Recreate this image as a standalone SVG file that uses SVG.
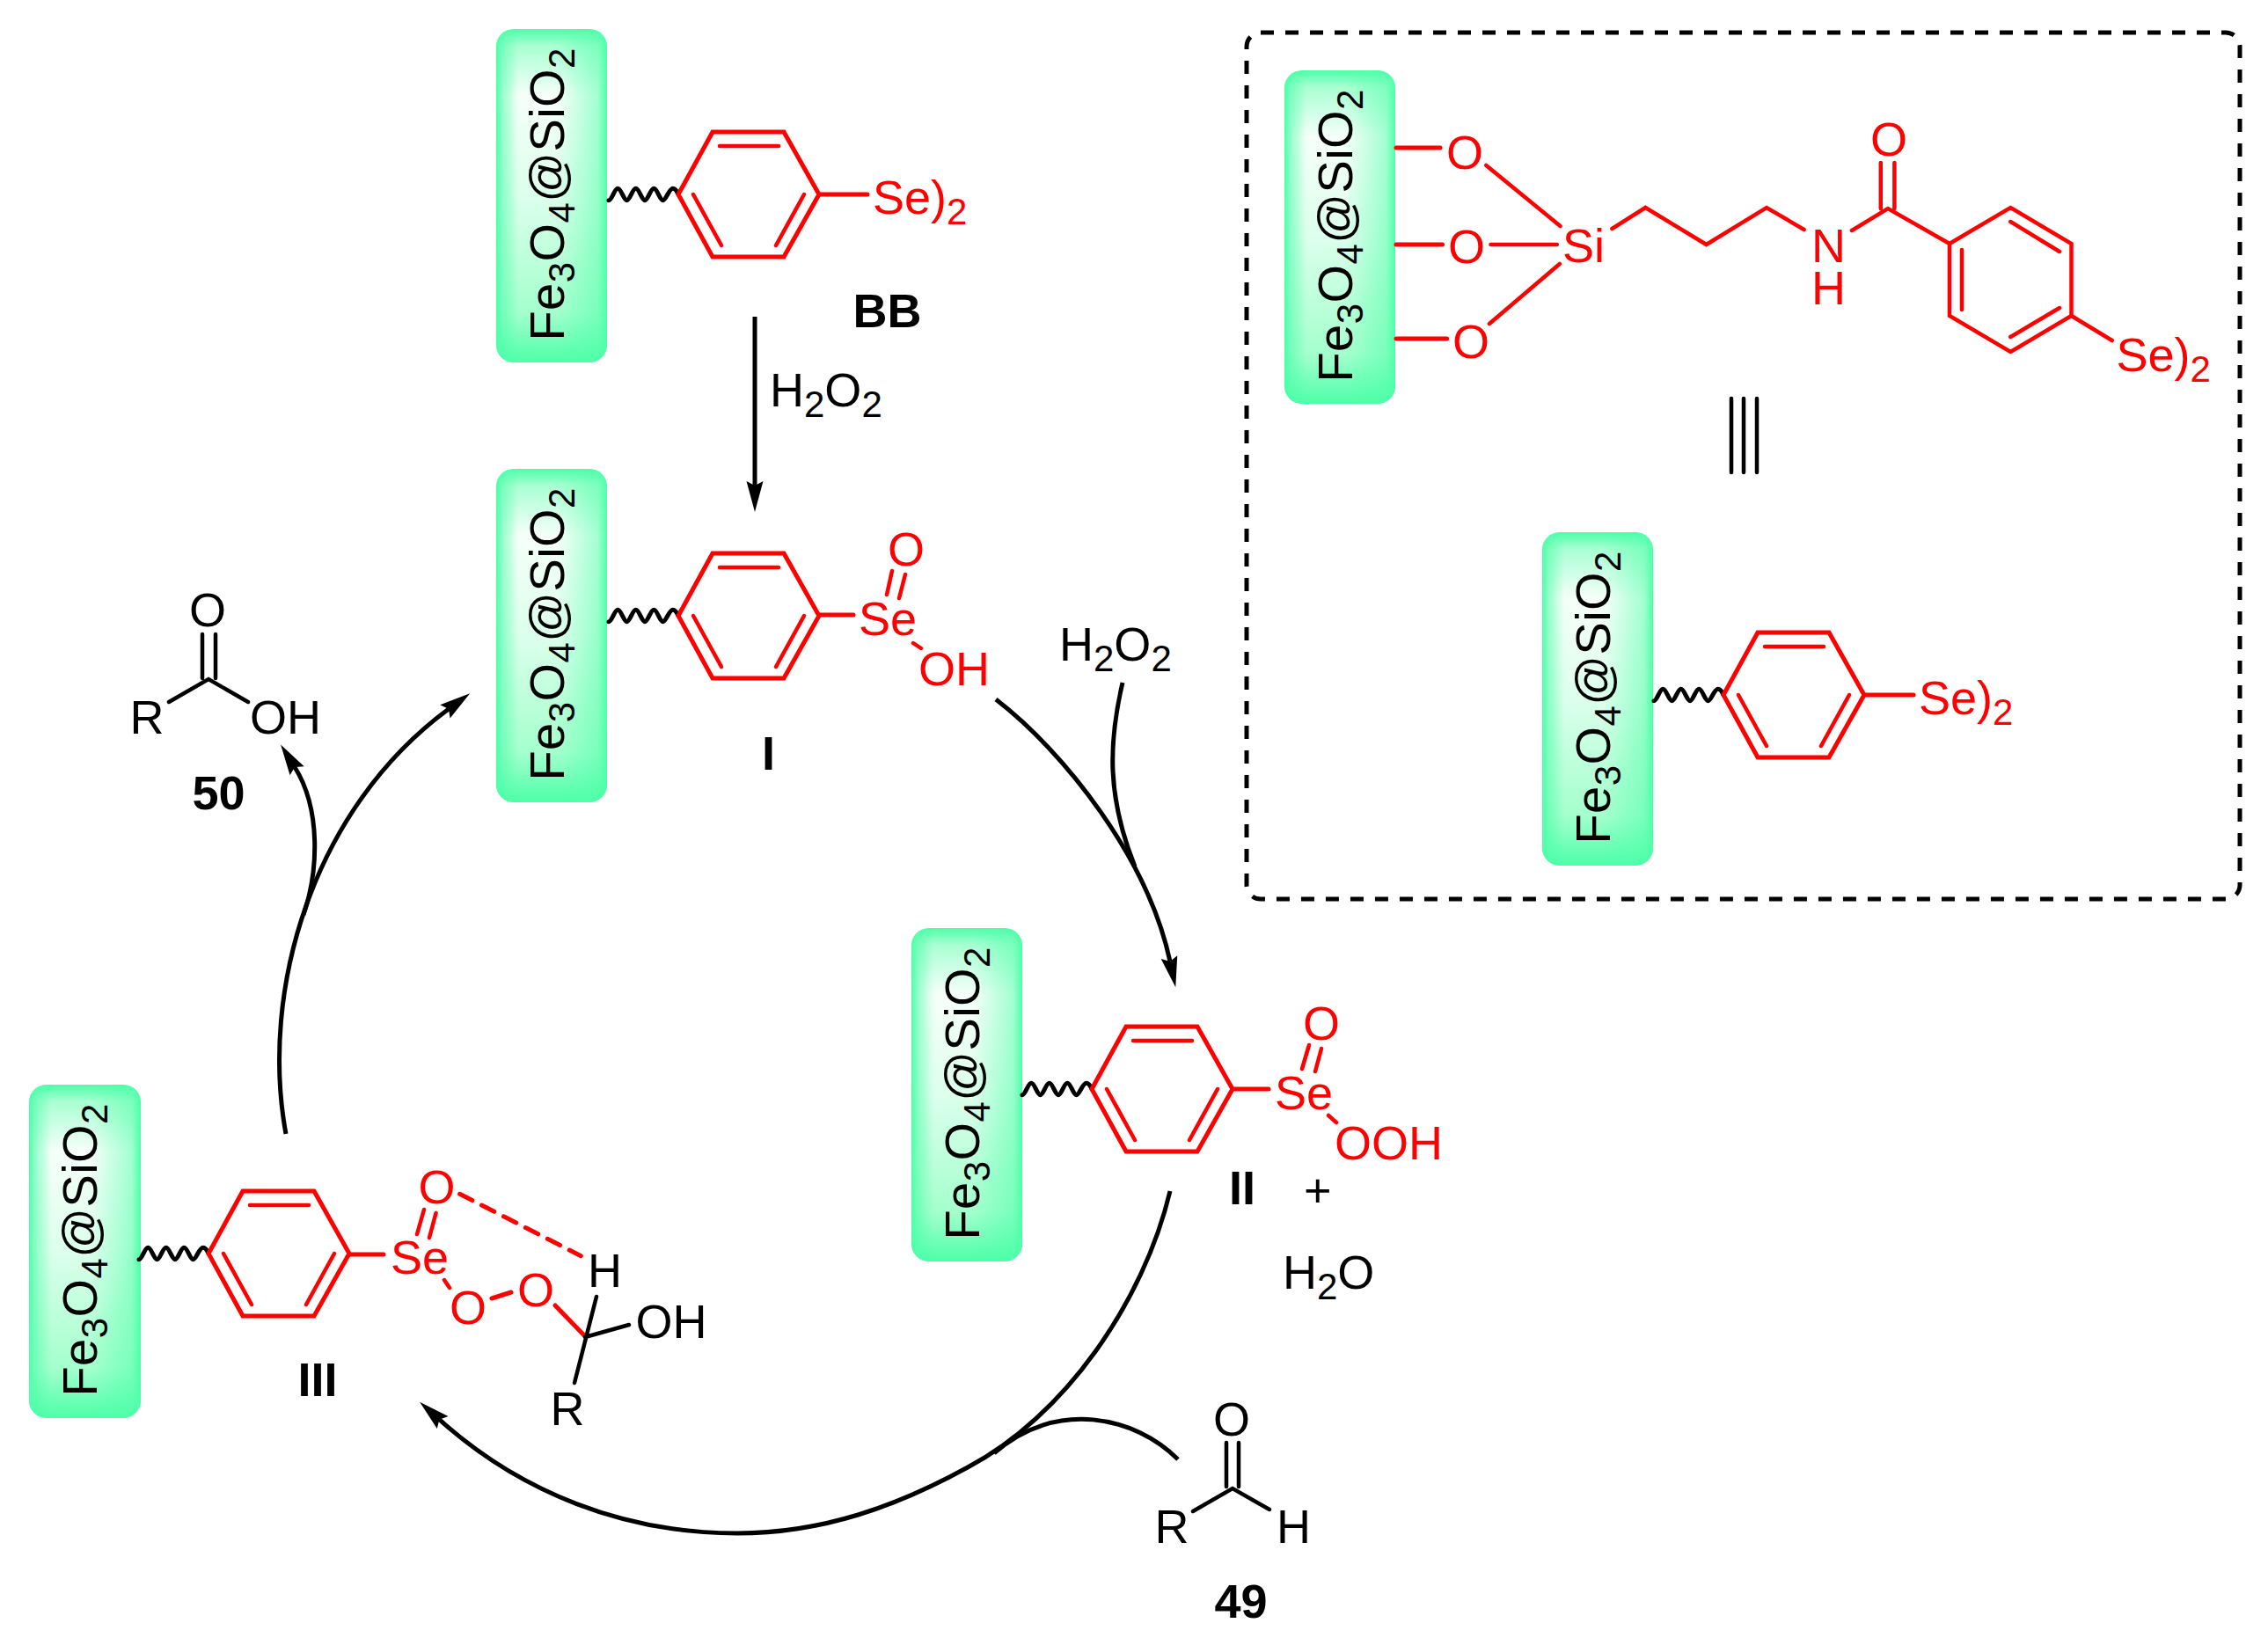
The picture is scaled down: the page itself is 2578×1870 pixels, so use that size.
<svg xmlns="http://www.w3.org/2000/svg" width="2578" height="1870" viewBox="0 0 2578 1870">
<style>
text{font-family:"Liberation Sans",Arial,sans-serif;font-size:54px;fill:#000}
.r{fill:#f00}
.bold{font-weight:bold}
.fs{font-size:56px;letter-spacing:.4px}
.s{font-size:42px}
.s2{font-size:42px}
.rb{stroke:#f00;stroke-width:5;fill:none;stroke-linecap:round;stroke-linejoin:miter}
.ri{stroke:#f00;stroke-width:4.5;fill:none;stroke-linecap:round}
.kb{stroke:#000;stroke-width:4.5;fill:none;stroke-linecap:round}
.wv{stroke:#000;stroke-width:5;fill:none;stroke-linecap:round}
.arc{stroke:#000;stroke-width:5;fill:none}
.head{marker-end:url(#ah)}
.b1{fill:url(#gv)}
.b2{fill:url(#gh)}
</style>
<defs>
<linearGradient id="gv" x1="0" y1="0" x2="0" y2="1">
<stop offset="0" stop-color="#4dffa8"/><stop offset=".05" stop-color="#a8ffd2"/><stop offset=".2" stop-color="#f6fffa"/><stop offset=".5" stop-color="#dcffec"/><stop offset=".85" stop-color="#a4ffcd"/><stop offset="1" stop-color="#4dffa8"/>
</linearGradient>
<linearGradient id="gh" x1="0" y1="0" x2="1" y2="0">
<stop offset="0" stop-color="#4dffa8"/><stop offset=".06" stop-color="#4dffa8" stop-opacity=".55"/><stop offset=".2" stop-color="#4dffa8" stop-opacity="0"/><stop offset=".55" stop-color="#4dffa8" stop-opacity="0"/><stop offset=".92" stop-color="#4dffa8" stop-opacity=".5"/><stop offset="1" stop-color="#4dffa8"/>
</linearGradient>
<marker id="ah" markerUnits="userSpaceOnUse" viewBox="-6 -11 38 22" markerWidth="38" markerHeight="22" refX="0" refY="0" orient="auto">
<path d="M30,0 L-5,-9.5 L0,0 L-5,9.5 Z" fill="#000"/>
</marker>
<g id="ring">
<path class="rb" d="M0,0 L39,-71 L120,-71 L160,0 L120,71 L39,71 Z"/>
<path class="ri" d="M47,-55 H114 M17,0 L49,58 M143,0 L111,58"/>
</g>
<path id="wave" class="wv" d="M-79,6.7 c3.5,0 6.5,-13.4 10.25,-13.4 s6.75,13.4 10.25,13.4 s6.5,-13.4 10.25,-13.4 s6.75,13.4 10.25,13.4 s6.5,-13.4 10.25,-13.4 s6.75,13.4 10.25,13.4 s7,-13.4 11.3,-13.4 Q-3,-6.7 0,0"/>
</defs>
<rect width="2578" height="1870" fill="#fff"/>

<g id="connectors">
<path class="arc head" d="M858,360 V552"/>
<path class="arc head" d="M1132,795 C1210,855 1305,976 1330,1093"/>
<path class="arc" d="M1276,776 C1260,845 1258,905 1290,985"/>
<path class="arc head" d="M1330,1354 C1300,1480 1210,1610 1100,1668 C1020,1712 935,1743 838,1743 C710,1743 592,1697 499.4,1613.7"/>
<path class="arc" d="M1339,1659 C1290,1610 1200,1590 1130,1652"/>
<path class="arc head" d="M325,1289 C295,1126 355,920 510,806"/>
<path class="arc head" d="M345,1040 C362,990 365,920 335,872"/>
</g>

<g id="node-bb">
<rect class="b1" x="564" y="33" width="126" height="379" rx="20"/><rect class="b2" x="564" y="33" width="126" height="379" rx="20"/>
<text class="fs" transform="translate(641,387.500) rotate(-90)">Fe<tspan class="s2" dy="12">3</tspan><tspan dy="-12">O</tspan><tspan class="s2" dy="12">4</tspan><tspan dy="-12">@SiO</tspan><tspan class="s2" dy="12">2</tspan></text>
<use href="#wave" x="771" y="221"/>
<use href="#ring" x="771" y="221"/>
<path class="rb" d="M931,221 H986"/>
<text class="r" x="992" y="243">Se)<tspan class="s" dy="12">2</tspan></text>
<text class="bold" x="969.500" y="372">BB</text>
</g>

<g id="reagent-h2o2-1"><text x="875" y="462">H<tspan class="s" dy="12">2</tspan><tspan dy="-12">O</tspan><tspan class="s" dy="12">2</tspan></text></g>

<g id="node-i">
<rect class="b1" x="564" y="533" width="126" height="379" rx="20"/><rect class="b2" x="564" y="533" width="126" height="379" rx="20"/>
<text class="fs" transform="translate(641,887.500) rotate(-90)">Fe<tspan class="s2" dy="12">3</tspan><tspan dy="-12">O</tspan><tspan class="s2" dy="12">4</tspan><tspan dy="-12">@SiO</tspan><tspan class="s2" dy="12">2</tspan></text>
<use href="#wave" x="771" y="700"/>
<use href="#ring" x="771" y="700"/>
<path class="rb" d="M931,699 H970"/>
<text class="r" x="976" y="722">Se</text>
<text class="r" x="1009" y="643">O</text>
<path class="ri" d="M1014,649 L1008,676 M1029,653 L1022,680 M1038,731 L1047,737"/>
<text class="r" x="1044" y="779">OH</text>
<text class="bold" x="866" y="875">I</text>
</g>

<g id="reagent-h2o2-2"><text x="1204" y="751">H<tspan class="s" dy="12">2</tspan><tspan dy="-12">O</tspan><tspan class="s" dy="12">2</tspan></text></g>

<g id="node-ii">
<rect class="b1" x="1036" y="1055" width="126" height="379" rx="20"/><rect class="b2" x="1036" y="1055" width="126" height="379" rx="20"/>
<text class="fs" transform="translate(1113,1409.500) rotate(-90)">Fe<tspan class="s2" dy="12">3</tspan><tspan dy="-12">O</tspan><tspan class="s2" dy="12">4</tspan><tspan dy="-12">@SiO</tspan><tspan class="s2" dy="12">2</tspan></text>
<use href="#wave" x="1241" y="1238"/>
<use href="#ring" x="1241" y="1238"/>
<path class="rb" d="M1401,1238 H1442"/>
<text class="r" x="1449" y="1261">Se</text>
<text class="r" x="1481" y="1182">O</text>
<path class="ri" d="M1488,1188 L1480,1215 M1502,1192 L1495,1218 M1510,1268 L1519,1276"/>
<text class="r" x="1517" y="1318">OOH</text>
<text class="bold" x="1397" y="1369">II</text>
<text x="1482" y="1372">+</text>
<text x="1458" y="1465">H<tspan class="s" dy="12">2</tspan><tspan dy="-12">O</tspan></text>
</g>

<g id="node-iii">
<rect class="b1" x="33" y="1233" width="127" height="379" rx="20"/><rect class="b2" x="33" y="1233" width="127" height="379" rx="20"/>
<text class="fs" transform="translate(110,1587.500) rotate(-90)">Fe<tspan class="s2" dy="12">3</tspan><tspan dy="-12">O</tspan><tspan class="s2" dy="12">4</tspan><tspan dy="-12">@SiO</tspan><tspan class="s2" dy="12">2</tspan></text>
<use href="#wave" x="237" y="1425"/>
<use href="#ring" x="237" y="1425"/>
<path class="rb" d="M397,1426 H436"/>
<text class="r" x="444" y="1448">Se</text>
<text class="r" x="475.500" y="1368">O</text>
<path class="ri" d="M482,1375 L474,1403 M495.500,1379 L488,1407 M505,1455 L511,1464"/>
<path class="rb" stroke-dasharray="16 12" stroke-linecap="butt" d="M522.600,1357.300 L660.300,1427.700"/>
<text class="r" x="511" y="1505">O</text>
<path class="rb" d="M559,1476 L581,1469"/>
<text class="r" x="588" y="1485">O</text>
<path class="rb" d="M631,1484 L664,1518"/>
<path class="kb" d="M678,1474 L653,1572 M665,1520 L715,1506"/>
<text x="668" y="1463">H</text>
<text x="722.500" y="1521">OH</text>
<text x="625.500" y="1620">R</text>
<text class="bold" x="338.500" y="1587">III</text>
</g>

<g id="node-49">
<text x="1379" y="1632">O</text>
<path class="kb" d="M1394,1640 V1690 M1408,1640 V1690 M1356,1718 L1401,1692 L1443,1716"/>
<text x="1312.500" y="1754">R</text>
<text x="1451" y="1754">H</text>
<text class="bold" x="1380.500" y="1839">49</text>
</g>

<g id="node-50">
<text x="215" y="712">O</text>
<path class="kb" d="M230,721 V771 M245,721 V771 M192,798 L237,772 L282,798"/>
<text x="147.500" y="834">R</text>
<text x="284" y="834">OH</text>
<text class="bold" x="218.500" y="920">50</text>
</g>

<g id="legend">
<rect x="1417" y="37" width="1129" height="985" rx="16" fill="none" stroke="#000" stroke-width="5" stroke-dasharray="15 13"/>
<path class="kb" d="M1968,453 V537 M1982,453 V537 M1997,453 V537"/>
</g>

<g id="node-linker">
<rect class="b1" x="1460" y="80" width="126" height="379" rx="20"/><rect class="b2" x="1460" y="80" width="126" height="379" rx="20"/>
<text class="fs" transform="translate(1537,434.500) rotate(-90)">Fe<tspan class="s2" dy="12">3</tspan><tspan dy="-12">O</tspan><tspan class="s2" dy="12">4</tspan><tspan dy="-12">@SiO</tspan><tspan class="s2" dy="12">2</tspan></text>
<path class="rb" d="M1587,168 H1637 M1587,278 H1639.500 M1587,385 H1644.600"/>
<path class="ri" d="M1689.300,188 L1773.500,257 M1694.500,278 H1769.800 M1693,368 L1772.800,300"/>
<text class="r" x="1644" y="192">O</text>
<text class="r" x="1646" y="299">O</text>
<text class="r" x="1651" y="407">O</text>
<text class="r" x="1776" y="298">Si</text>
<path class="ri" d="M1832.400,260 L1870.300,236 L1939.600,278 L2008.100,236 L2050.600,261 M2105,262 L2146,237 L2216,277 M2137.800,185 V237 M2153.400,185 V237 M2354.500,359 L2400.700,387"/>
<text class="r"><tspan x="2059" y="298">N</tspan><tspan x="2059" y="346">H</tspan></text>
<text class="r" x="2126" y="177">O</text>
<path class="ri" d="M2216,277 L2285.300,236 L2354.500,277 V359 L2285.300,400 L2216,359 Z M2230,284 V352 M2285.300,252 L2341,286 M2285.300,383 L2341,350"/>
<text class="r" x="2405.500" y="422">Se)<tspan class="s" dy="12">2</tspan></text>
</g>

<g id="node-legend-bottom">
<rect class="b1" x="1753" y="605" width="126" height="379" rx="20"/><rect class="b2" x="1753" y="605" width="126" height="379" rx="20"/>
<text class="fs" transform="translate(1830,959.500) rotate(-90)">Fe<tspan class="s2" dy="12">3</tspan><tspan dy="-12">O</tspan><tspan class="s2" dy="12">4</tspan><tspan dy="-12">@SiO</tspan><tspan class="s2" dy="12">2</tspan></text>
<use href="#wave" x="1959" y="790"/>
<use href="#ring" x="1959" y="790"/>
<path class="rb" d="M2119,790 H2175"/>
<text class="r" x="2181" y="812">Se)<tspan class="s" dy="12">2</tspan></text>
</g>
</svg>
